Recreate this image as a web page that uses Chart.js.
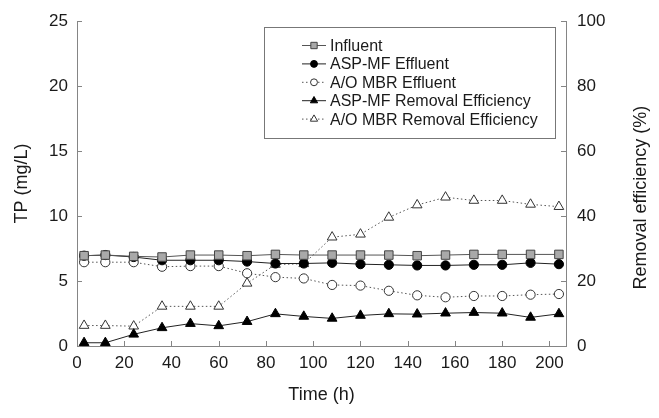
<!DOCTYPE html>
<html>
<head>
<meta charset="utf-8">
<script src="https://cdn.jsdelivr.net/npm/chart.js@4.4.1/dist/chart.umd.min.js"></script>
<style>
  html, body { margin: 0; background: #fff; }
  canvas { display: block; }
</style>
</head>
<body>
<canvas id="chart" width="659" height="418"></canvas>
<script>
// time of each sample (h)
const hours = [3, 12, 24, 36, 48, 60, 72, 84, 96, 108, 120, 132, 144, 156, 168, 180, 192, 204];

// TP (mg/L), left axis
const influent = [6.95, 7.0, 6.9, 6.85, 7.0, 7.0, 6.95, 7.05, 7.0, 7.0, 7.0, 7.0, 6.95, 7.0, 7.05, 7.05, 7.05, 7.05];
const aspEffluent = [6.95, 7.0, 6.85, 6.6, 6.6, 6.6, 6.5, 6.35, 6.35, 6.4, 6.3, 6.25, 6.2, 6.2, 6.25, 6.25, 6.4, 6.3];
const mbrEffluent = [6.45, 6.45, 6.45, 6.1, 6.15, 6.15, 5.6, 5.3, 5.2, 4.7, 4.65, 4.25, 3.9, 3.75, 3.85, 3.85, 3.95, 4.0];

// removal efficiency (%), right axis
const aspRemoval = [1.0, 1.0, 3.6, 5.6, 6.9, 6.2, 7.5, 9.9, 9.1, 8.5, 9.4, 9.9, 9.8, 10.1, 10.3, 10.1, 8.8, 9.9];
const mbrRemoval = [6.3, 6.3, 6.1, 12.2, 12.2, 12.2, 19.3, 25.1, 25.3, 33.5, 34.4, 39.6, 43.4, 45.8, 44.8, 44.8, 43.6, 42.9];

const xTicks = [0, 20, 40, 60, 80, 100, 120, 140, 160, 180, 200];
const leftTicks = [0, 5, 10, 15, 20, 25];
const rightTicks = [0, 20, 40, 60, 80, 100];

const FONT = 'Liberation Sans, Arial, Helvetica, sans-serif';
const AXIS = '#858585';
const TEXT = '#1a1a1a';

const pts = (vals) => hours.map((h, i) => ({ x: h, y: vals[i] }));

const series = (label, vals, axis, style) => Object.assign({
  label,
  data: pts(vals),
  yAxisID: axis,
  borderWidth: 1,
  pointBorderWidth: 1,
  tension: 0,
  clip: false
}, style);

// inward tick marks on the three axes
const innerTicks = {
  id: 'innerTicks',
  afterDraw(chart) {
    const { ctx, chartArea: a, scales } = chart;
    ctx.save();
    ctx.strokeStyle = AXIS;
    ctx.lineWidth = 1;
    ctx.beginPath();
    scales.x.ticks.forEach((t) => {
      const px = Math.round(scales.x.getPixelForValue(t.value)) + 0.5;
      ctx.moveTo(px, a.bottom); ctx.lineTo(px, a.bottom - 5);
    });
    scales.y.ticks.forEach((t) => {
      const py = Math.round(scales.y.getPixelForValue(t.value)) + 0.5;
      ctx.moveTo(a.left, py); ctx.lineTo(a.left + 5, py);
    });
    scales.y1.ticks.forEach((t) => {
      const py = Math.round(scales.y1.getPixelForValue(t.value)) + 0.5;
      ctx.moveTo(a.right, py); ctx.lineTo(a.right - 5, py);
    });
    ctx.stroke();

    // right axis title reads bottom to top
    ctx.fillStyle = TEXT;
    ctx.font = '18px ' + FONT;
    ctx.textAlign = 'center';
    ctx.textBaseline = 'middle';
    ctx.translate(641, (a.top + a.bottom) / 2 + 14);
    ctx.rotate(-Math.PI / 2);
    ctx.fillText('Removal efficiency (%)', 0, 0);
    ctx.restore();
  }
};

// boxed legend with line samples
const boxLegend = {
  id: 'boxLegend',
  afterDraw(chart) {
    const { ctx } = chart;
    const box = { x: 264.5, y: 27.5, w: 291, h: 111 };
    ctx.save();
    ctx.fillStyle = '#fff';
    ctx.fillRect(box.x, box.y, box.w, box.h);
    ctx.strokeStyle = '#777';
    ctx.lineWidth = 1;
    ctx.strokeRect(box.x, box.y, box.w, box.h);
    ctx.font = '16px ' + FONT;
    ctx.textBaseline = 'middle';
    chart.data.datasets.forEach((ds, i) => {
      const y = 45.5 + i * 18.4;
      ctx.strokeStyle = ds.borderColor;
      ctx.lineWidth = 1;
      ctx.setLineDash(ds.borderDash || []);
      ctx.beginPath();
      ctx.moveTo(302, y); ctx.lineTo(326, y);
      ctx.stroke();
      ctx.setLineDash([]);
      ctx.fillStyle = ds.pointBackgroundColor;
      ctx.strokeStyle = ds.pointBorderColor;
      Chart.helpers.drawPoint(ctx, {
        pointStyle: ds.pointStyle,
        radius: ds.pointRadius * 0.75,
        rotation: 0,
        borderWidth: 1
      }, 314, y);
      ctx.fillStyle = TEXT;
      ctx.fillText(ds.label, 330, y + 1);
    });
    ctx.restore();
  }
};

new Chart(document.getElementById('chart'), {
  type: 'line',
  data: {
    datasets: [
      series('Influent', influent, 'y', {
        borderColor: '#555', pointStyle: 'rect', pointRadius: 6,
        pointBackgroundColor: '#a9a9a9', pointBorderColor: '#444'
      }),
      series('ASP-MF Effluent', aspEffluent, 'y', {
        borderColor: '#222', pointStyle: 'circle', pointRadius: 4.6,
        pointBackgroundColor: '#000', pointBorderColor: '#000'
      }),
      series('A/O MBR Effluent', mbrEffluent, 'y', {
        borderColor: '#555', borderDash: [1.5, 2.5], pointStyle: 'circle', pointRadius: 4.6,
        pointBackgroundColor: '#fff', pointBorderColor: '#333'
      }),
      series('ASP-MF Removal Efficiency', aspRemoval, 'y1', {
        borderColor: '#222', pointStyle: 'triangle', pointRadius: 5.6,
        pointBackgroundColor: '#000', pointBorderColor: '#000'
      }),
      series('A/O MBR Removal Efficiency', mbrRemoval, 'y1', {
        borderColor: '#555', borderDash: [1.5, 2.5], pointStyle: 'triangle', pointRadius: 5.6,
        pointBackgroundColor: '#fff', pointBorderColor: '#333'
      })
    ]
  },
  options: {
    responsive: false,
    animation: false,
    layout: { padding: { top: 17, left: 0, right: 0, bottom: 0 } },
    plugins: { legend: { display: false }, tooltip: { enabled: false } },
    scales: {
      x: {
        type: 'linear',
        position: 'bottom',
        min: 0,
        max: 207,
        afterBuildTicks: (s) => { s.ticks = xTicks.map((v) => ({ value: v })); },
        afterFit: (s) => { s.height = 72; },
        grid: { display: false, drawTicks: false },
        border: { display: true, color: AXIS, width: 1 },
        ticks: { color: TEXT, font: { family: FONT, size: 17 }, padding: 7, maxRotation: 0 },
        title: { display: true, text: 'Time (h)', color: TEXT, font: { family: FONT, size: 18 }, padding: { top: 0, bottom: 12 } }
      },
      y: {
        type: 'linear',
        position: 'left',
        min: 0,
        max: 25,
        afterBuildTicks: (s) => { s.ticks = leftTicks.map((v) => ({ value: v })); },
        afterFit: (s) => { s.width = 77; },
        grid: { display: false, drawTicks: false },
        border: { display: true, color: AXIS, width: 1 },
        ticks: { color: TEXT, font: { family: FONT, size: 17 }, padding: 9 },
        title: { display: true, text: 'TP (mg/L)', color: TEXT, font: { family: FONT, size: 18 }, padding: { top: 11, bottom: 0 } }
      },
      y1: {
        type: 'linear',
        position: 'right',
        min: 0,
        max: 100,
        afterBuildTicks: (s) => { s.ticks = rightTicks.map((v) => ({ value: v })); },
        afterFit: (s) => { s.width = 93; },
        grid: { display: false, drawTicks: false },
        border: { display: true, color: AXIS, width: 1 },
        ticks: { color: TEXT, font: { family: FONT, size: 17 }, padding: 11 }
      }
    }
  },
  plugins: [innerTicks, boxLegend]
});
</script>
</body>
</html>
